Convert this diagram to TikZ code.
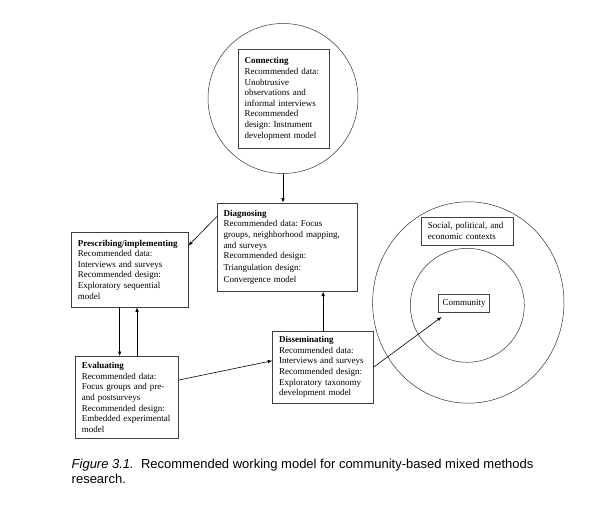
\documentclass[tikz,border=0pt]{standalone}
\usepackage{fontspec}
\setmainfont{Liberation Serif}
\newfontfamily\capfont{Liberation Sans}
\usetikzlibrary{arrows.meta,shapes.geometric,calc}
\frenchspacing

\begin{document}
\begin{tikzpicture}[x=1pt, y=-1pt,
    stagebox/.style={draw=black!75, line width=0.6pt, align=left, anchor=north west,
        font=\fontsize{9}{10.6}\selectfont, inner xsep=6.5pt, inner ysep=3pt},
    ring/.style={draw=black!80, line width=0.5pt, inner sep=0pt},
    arr/.style={line width=0.6pt, -{Latex[length=4.5pt,width=3.5pt]}}]
    \useasboundingbox (0,0) rectangle (591,506);

    % Connecting stage in its circle
    \node[ring, circle, minimum size=150pt] (conncirc) at (283,98.5) {};
    \node[stagebox, text width=78.3pt, minimum height=99pt] (conn) at (237.7,49)
        {\textbf{Connecting}\\Recommended data:\\Unobtrusive\\observations and\\informal interviews\\Recommended\\design: Instrument\\development model};

    % Diagnosing
    \node[stagebox, text width=127pt, minimum height=88.3pt] (diag) at (216.7,202.7)
        {\textbf{Diagnosing}\\Recommended data: Focus\\groups, neighborhood mapping,\\and surveys\\Recommended design:\\[1pt]Triangulation design:\\[1.5pt]Convergence model};

    % Prescribing/implementing
    \node[stagebox, text width=103.7pt, minimum height=75pt] (presc) at (71,231.7)
        {\textbf{Prescribing/implementing}\\Recommended data:\\Interviews and surveys\\Recommended design:\\Exploratory sequential\\model};

    % Evaluating
    \node[stagebox, text width=90.3pt, minimum height=82.3pt] (eval) at (75,356)
        {\textbf{Evaluating}\\Recommended data:\\Focus groups and pre-\\and postsurveys\\Recommended design:\\Embedded experimental\\model};

    % Disseminating
    \node[stagebox, text width=88pt, minimum height=72pt] (diss) at (272.3,330.7)
        {\textbf{Disseminating}\\Recommended data:\\Interviews and surveys\\Recommended design:\\Exploratory taxonomy\\development model};

    % Contexts and community
    \node[ring, ellipse, minimum width=191.4pt, minimum height=201.4pt] (ctxring) at (468.3,302.5) {};
    \node[ring, circle, minimum size=114pt] (comring) at (467.3,305.3) {};
    \node[stagebox, text width=78.7pt, minimum height=28.3pt] (ctx) at (421,216.7)
        {Social, political, and\\economic contexts};
    \node[stagebox, align=center, inner xsep=0pt, text width=51pt, minimum height=18.3pt] (comm) at (438.3,294)
        {Community};

    % Cycle arrows
    \draw[arr] (conncirc.south) -- (conncirc.south |- diag.north);
    \draw[arr] ([yshift=-14pt]diag.north west) -- ([yshift=-14pt]presc.north east);
    \draw[arr] ([xshift=-10pt]presc.south) -- ([xshift=-10pt]presc.south |- eval.north);
    \draw[arr] ([xshift=7.4pt]presc.south |- eval.north) -- ([xshift=7.4pt]presc.south);
    \draw[arr] ([yshift=-24pt]eval.north east) -- ([yshift=-30pt]diss.north west);
    \draw[arr] (diss.north) -- (diss.north |- diag.south);
    \draw[arr] (diss.east) -- ($(comm.south west)+(3.4,4)$);

    % Caption
    \node[anchor=north west, inner sep=0pt, align=left,
        font=\capfont\fontsize{13}{15}\selectfont] (caption) at (71.5,459)
        {\textit{Figure 3.1.}\ \ Recommended working model for community-based mixed methods\\research.};
\end{tikzpicture}
\end{document}
